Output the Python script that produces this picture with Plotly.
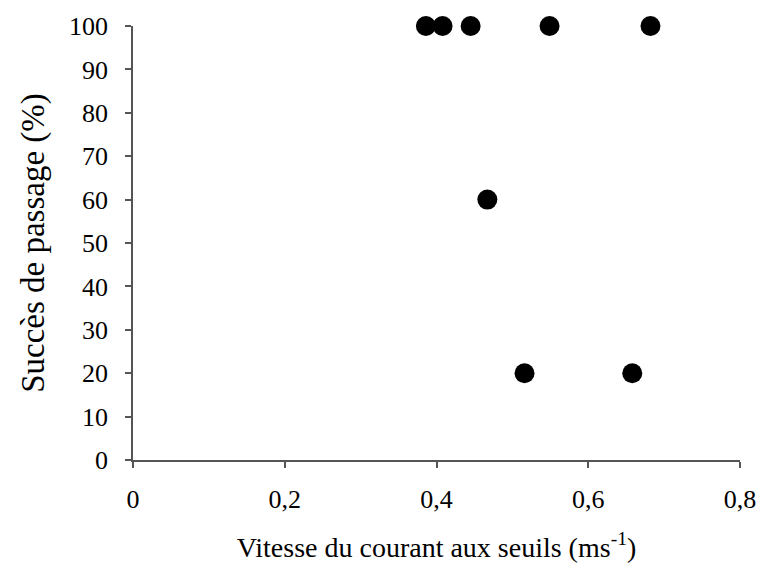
import plotly.graph_objects as go

vitesse = [0.386, 0.408, 0.445, 0.549, 0.682, 0.467, 0.516, 0.658]
succes = [100, 100, 100, 100, 100, 60, 20, 20]

x_tickvals = [0, 0.2, 0.4, 0.6, 0.8]
x_ticktext = ["0", "0,2", "0,4", "0,6", "0,8"]
y_tickvals = [0, 10, 20, 30, 40, 50, 60, 70, 80, 90, 100]

font_family = "Liberation Serif"

fig = go.Figure(go.Scatter(
    x=vitesse, y=succes, mode="markers",
    marker=dict(color="black", size=20, line=dict(width=0)),
    cliponaxis=False, showlegend=False,
))

fig.update_layout(
    width=768, height=577,
    margin=dict(l=133, r=22, t=22, b=117),
    plot_bgcolor="white", paper_bgcolor="white",
    font=dict(family=font_family, size=26, color="black"),
)
fig.update_xaxes(
    range=[0, 0.8], tickvals=x_tickvals, ticktext=x_ticktext,
    tickfont=dict(family=font_family, size=26, color="black"),
    showgrid=False, zeroline=False, showline=True, linecolor="#555", linewidth=1.5,
    ticks="outside", ticklen=6, tickcolor="#555", tickwidth=1.5,
    ticklabelstandoff=9,
    title=dict(text="Vitesse du courant aux seuils (ms<sup>-1</sup>)", standoff=24,
               font=dict(family=font_family, size=28, color="black")),
)
fig.update_yaxes(
    range=[0, 100], tickvals=y_tickvals,
    tickfont=dict(family=font_family, size=26, color="black"),
    showgrid=False, zeroline=False, showline=True, linecolor="#555", linewidth=1.5,
    ticks="outside", ticklen=6, tickcolor="#555", tickwidth=1.5,
    ticklabelstandoff=12,
    title=dict(text="Succès de passage (%)", standoff=14,
               font=dict(family=font_family, size=33, color="black")),
)

fig.write_html("out.html")
